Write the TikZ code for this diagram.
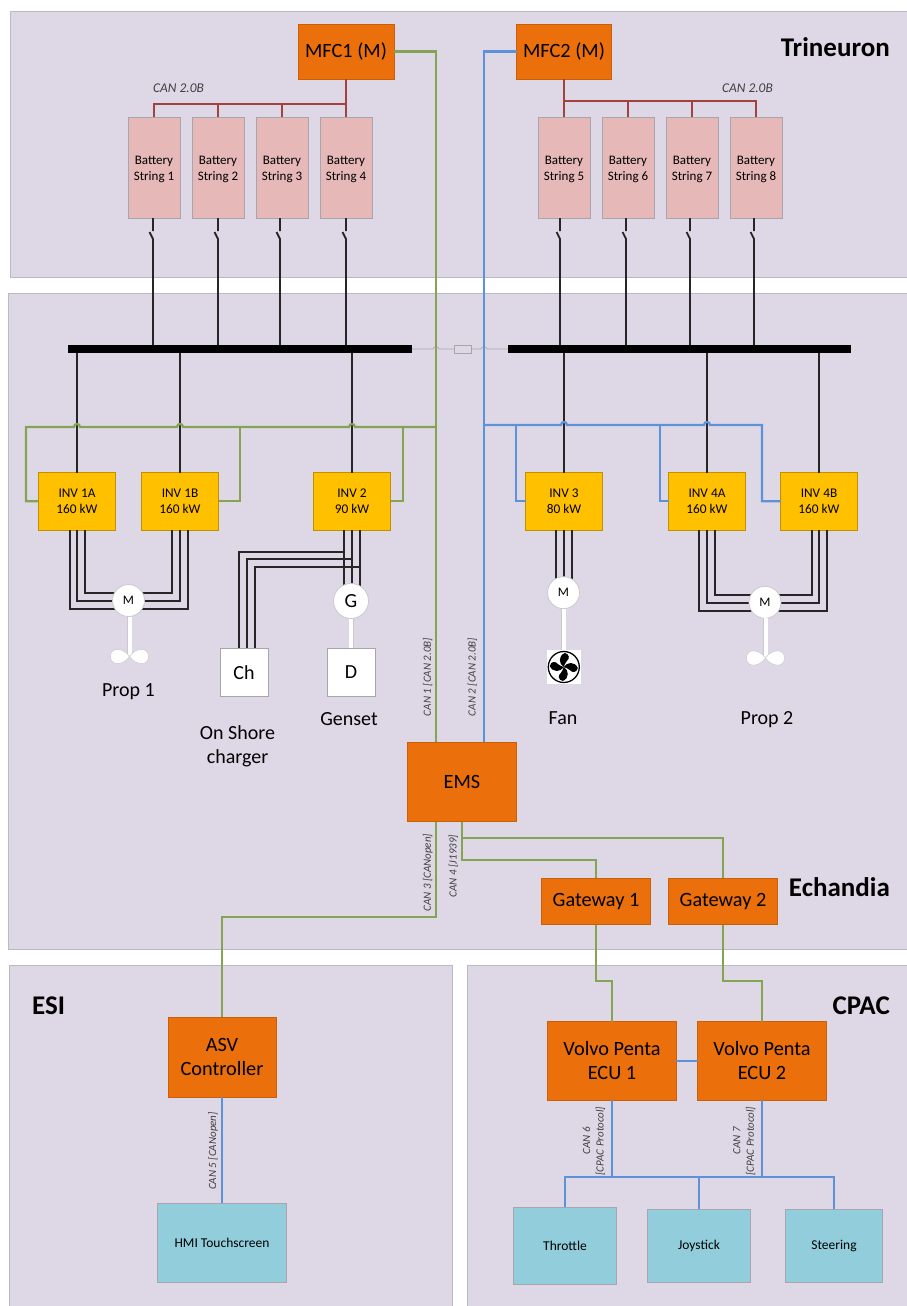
\documentclass[tikz,border=0pt]{standalone}
\usepackage{fontspec}
\setmainfont{Carlito}
\usepackage{tikz}
\usetikzlibrary{positioning}

\definecolor{panelfill}{HTML}{DED8E6}
\definecolor{paneledge}{HTML}{BDB9C4}
\definecolor{ctrlorange}{HTML}{EB700B}
\definecolor{battpink}{HTML}{E6B8B7}
\definecolor{invyellow}{HTML}{FFC000}
\definecolor{perifblue}{HTML}{92CDDC}
\definecolor{wiregreen}{HTML}{84A353}
\definecolor{wireblue}{HTML}{5E92D8}
\definecolor{wirered}{HTML}{A2423F}
\definecolor{boxedge}{HTML}{A9A5AE}

\tikzset{
  panel/.style={fill=panelfill, draw=paneledge, line width=0.8pt},
  title/.style={font=\fontsize{27}{32}\selectfont\bfseries, inner sep=0pt},
  box/.style={draw=boxedge, line width=0.8pt, inner sep=0pt, outer sep=0pt, align=center},
  ctrl/.style={box, fill=ctrlorange, draw=ctrlorange!85!black, font=\fontsize{20.3}{24}\selectfont},
  batt/.style={box, fill=battpink, font=\fontsize{13}{16}\selectfont, text height=29pt, minimum width=52pt, minimum height=101pt},
  inverter/.style={box, fill=invyellow, draw=invyellow!75!black, font=\fontsize{13.3}{16}\selectfont, minimum width=77pt, minimum height=57.5pt},
  perif/.style={box, fill=perifblue, font=\fontsize{13.5}{16}\selectfont},
  plain/.style={box, fill=white, font=\fontsize{20}{24}\selectfont, minimum width=48pt, minimum height=48pt},
  machine/.style={circle, fill=white, draw=boxedge!60, line width=0.8pt, inner sep=0pt, outer sep=0pt, minimum size=32pt, font=\fontsize{13}{16}\selectfont},
  busbar/.style={fill=black, inner sep=0pt, outer sep=0pt, minimum height=8.5pt},
  caption/.style={font=\fontsize{20}{24.5}\selectfont, inner sep=0pt, align=center},
  canlabel/.style={font=\fontsize{11}{13.5}\selectfont\itshape, text=black!75, inner sep=0pt, align=center},
  busnote/.style={font=\fontsize{13.4}{16}\selectfont\itshape, text=black!75, inner sep=0pt},
  power/.style={black!85, line width=1.8pt},
  phase/.style={black!85, line width=1.6pt},
  tiebar/.style={black!35, line width=0.6pt},
  cangreen/.style={wiregreen, line width=2.2pt},
  canblue/.style={wireblue, line width=2.2pt},
  canred/.style={wirered, line width=2.2pt},
  shaft/.style={draw=boxedge!60, double=white, double distance=4pt, line width=0.5pt},
  propeller/.pic={
    \draw[draw=boxedge!60, fill=white, line width=0.5pt] (0,0) .. controls (-6,-9) and (-19,-10) .. (-19,0)
      .. controls (-19,10) and (-6,9) .. (0,0)
      .. controls (6,-9) and (19,-10) .. (19,0)
      .. controls (19,10) and (6,9) .. (0,0);
  },
  fanblades/.pic={
    \draw[black, fill=white, line width=1.3pt] (0,0) circle (15.5);
    \foreach \turn in {0,90,180,270} {
      \fill[black, rotate=\turn] (0,0) .. controls (-5,-3) and (-6,-11) .. (1,-14)
        .. controls (6,-13) and (6,-8) .. (3,-6) .. controls (1,-4) and (1,-2) .. (0,0);
    }
  }
}

\begin{document}
\begin{tikzpicture}[x=1pt,y=-1pt]
    \useasboundingbox (0,0) rectangle (906,1306);
    % ---- Panels ----
    \draw[panel] (10,11.5) rectangle (907,277);
    \draw[panel] (8.5,293.5) rectangle (907,949);
    \draw[panel] (9,965.5) rectangle (452,1307);
    \draw[panel] (467,965.5) rectangle (907,1307);
    \node[title, anchor=east] (trineuron) at (890,47) {Trineuron};
    \node[title, anchor=east] (echandia) at (890,887) {Echandia};
    \node[title, anchor=west] (esi) at (32,1006) {ESI};
    \node[title, anchor=east] (cpac) at (890,1006) {CPAC};

    % ---- Trineuron ----
    \node[ctrl, minimum width=96pt, minimum height=55pt] (mfc1) at (346,51.5) {MFC1 (M)};
    \node[ctrl, minimum width=95pt, minimum height=55pt] (mfc2) at (564,51.5) {MFC2 (M)};
    \node[batt] (bs1) at (154,167.5) {Battery\\String 1};
    \node[batt] (bs2) at (218,167.5) {Battery\\String 2};
    \node[batt] (bs3) at (282,167.5) {Battery\\String 3};
    \node[batt] (bs4) at (346,167.5) {Battery\\String 4};
    \node[batt] (bs5) at (564,167.5) {Battery\\String 5};
    \node[batt] (bs6) at (628,167.5) {Battery\\String 6};
    \node[batt] (bs7) at (692,167.5) {Battery\\String 7};
    \node[batt] (bs8) at (756,167.5) {Battery\\String 8};
    \node[busnote, anchor=west] (canleft) at (153,88.5) {CAN 2.0B};
    \node[busnote, anchor=east] (canright) at (773,88.5) {CAN 2.0B};
    \draw[canred] (mfc1.south) -- (bs4.north);
    \draw[canred] (mfc2.south) -- (bs5.north);
    \draw[canred] (bs1.north) -- ++(0,-13) -| (mfc1.south);
    \draw[canred] (bs2.north) -- ++(0,-13);
    \draw[canred] (bs3.north) -- ++(0,-13);
    \draw[canred] (bs8.north) -- ++(0,-16) -| (mfc2.south);
    \draw[canred] (bs6.north) -- ++(0,-16);
    \draw[canred] (bs7.north) -- ++(0,-16);

    % ---- Busbars ----
    \node[busbar, minimum width=344pt] (busleft) at (240,349) {};
    \node[busbar, minimum width=343pt] (busright) at (679,349) {};
    \node[draw=black!35, fill=panelfill, line width=0.6pt, minimum width=17pt, minimum height=8pt, inner sep=0pt, outer sep=0pt] (fuse) at (462.5,349) {};
    \coordinate (hopgreen) at (436,349);
    \coordinate (hopblue) at (484,349);
    \draw[tiebar] (busleft.east) -- ([xshift=-3]hopgreen) .. controls +(0,-3) and +(0,-3) .. ([xshift=3]hopgreen) -- (fuse.west);
    \draw[tiebar] (fuse.east) -- ([xshift=-3]hopblue) .. controls +(0,-3) and +(0,-3) .. ([xshift=3]hopblue) -- (busright.west);

    % ---- Battery feeders with switches ----
    \draw[power] ([xshift=-1]bs1.south) -- ++(0,13) ++(-3.5,1) -- ++(3.5,7) -- ([xshift=-1]bs1.south |- busleft.north);
    \draw[power] (bs2.south) -- ++(0,13) ++(-3.5,1) -- ++(3.5,7) -- (bs2.south |- busleft.north);
    \draw[power] ([xshift=-2]bs3.south) -- ++(0,13) ++(-3.5,1) -- ++(3.5,7) -- ([xshift=-2]bs3.south |- busleft.north);
    \draw[power] (bs4.south) -- ++(0,13) ++(-3.5,1) -- ++(3.5,7) -- (bs4.south |- busleft.north);
    \draw[power] ([xshift=-4]bs5.south) -- ++(0,13) ++(-3.5,1) -- ++(3.5,7) -- ([xshift=-4]bs5.south |- busright.north);
    \draw[power] ([xshift=-2]bs6.south) -- ++(0,13) ++(-3.5,1) -- ++(3.5,7) -- ([xshift=-2]bs6.south |- busright.north);
    \draw[power] ([xshift=-2]bs7.south) -- ++(0,13) ++(-3.5,1) -- ++(3.5,7) -- ([xshift=-2]bs7.south |- busright.north);
    \draw[power] ([xshift=-2]bs8.south) -- ++(0,13) ++(-3.5,1) -- ++(3.5,7) -- ([xshift=-2]bs8.south |- busright.north);

    % ---- Inverters ----
    \node[inverter] (inv1a) at (77,501.3) {INV 1A\\160 kW};
    \node[inverter] (inv1b) at (180,501.3) {INV 1B\\160 kW};
    \node[inverter] (inv2) at (352,501.3) {INV 2\\90 kW};
    \node[inverter] (inv3) at (564,501.3) {INV 3\\80 kW};
    \node[inverter] (inv4a) at (707,501.3) {INV 4A\\160 kW};
    \node[inverter] (inv4b) at (819,501.3) {INV 4B\\160 kW};
    \draw[power] (inv1a.north) -- (inv1a.north |- busleft.south);
    \draw[power] (inv1b.north) -- (inv1b.north |- busleft.south);
    \draw[power] (inv2.north) -- (inv2.north |- busleft.south);
    \draw[power] (inv3.north) -- (inv3.north |- busright.south);
    \draw[power] (inv4a.north) -- (inv4a.north |- busright.south);
    \draw[power] (inv4b.north) -- (inv4b.north |- busright.south);

    % ---- EMS and gateways ----
    \node[ctrl, minimum width=108.5pt, minimum height=79.5pt] (ems) at (462,782) {EMS};
    \node[ctrl, minimum width=108.5pt, minimum height=46.5pt] (gw1) at (596,901.5) {Gateway 1};
    \node[ctrl, minimum width=108.5pt, minimum height=46.5pt] (gw2) at (723,901.5) {Gateway 2};
    \coordinate (greentee) at (436,427);
    \coordinate (bluetee) at (484,425);
    \draw[cangreen] (mfc1.east) -| ([xshift=-26]ems.north);
    \draw[canblue] (mfc2.west) -| ([xshift=22]ems.north);
    \draw[cangreen] (greentee) -- ([xshift=3]inv2.north |- greentee)
      .. controls +(0,-4) and +(0,-4) .. ([xshift=-3]inv2.north |- greentee)
      -- ([xshift=3]inv1b.north |- greentee)
      .. controls +(0,-4) and +(0,-4) .. ([xshift=-3]inv1b.north |- greentee)
      -- ([xshift=3]inv1a.north |- greentee)
      .. controls +(0,-4) and +(0,-4) .. ([xshift=-3]inv1a.north |- greentee)
      -| ([xshift=-12.5]inv1a.west) -- (inv1a.west);
    \draw[cangreen] ([xshift=21.5]inv1b.east |- greentee) |- (inv1b.east);
    \draw[cangreen] ([xshift=12.5]inv2.east |- greentee) |- (inv2.east);
    \draw[canblue] (bluetee) -- ([xshift=-3]inv3.north |- bluetee)
      .. controls +(0,-4) and +(0,-4) .. ([xshift=3]inv3.north |- bluetee)
      -- ([xshift=-3]inv4a.north |- bluetee)
      .. controls +(0,-4) and +(0,-4) .. ([xshift=3]inv4a.north |- bluetee)
      -| ([xshift=-18.5]inv4b.west) -- (inv4b.west);
    \draw[canblue] ([xshift=-9.5]inv3.west |- bluetee) |- (inv3.west);
    \draw[canblue] ([xshift=-8.5]inv4a.west |- bluetee) |- (inv4a.west);
    \node[canlabel, rotate=90] (can1) at (427.7,677) {CAN 1 [CAN 2.0B]};
    \node[canlabel, rotate=90] (can2) at (472.3,677) {CAN 2 [CAN 2.0B]};
    \node[canlabel, rotate=90] (can3) at (427.7,872.7) {CAN 3 [CANopen]};
    \node[canlabel, rotate=90] (can4) at (453.3,866) {CAN 4 [J1939]};

    % ---- Prop 1 ----
    \draw[phase] ([xshift=-7]inv1a.south) |- (128.5,609);
    \draw[phase] (inv1a.south) |- (128.5,601);
    \draw[phase] ([xshift=8]inv1a.south) |- (128.5,593);
    \draw[phase] ([xshift=-8]inv1b.south) |- (128.5,593);
    \draw[phase] (inv1b.south) |- (128.5,601);
    \draw[phase] ([xshift=8]inv1b.south) |- (128.5,609);
    \node[machine] (m1) at (128.5,600.5) {M};
    \coordinate (hub1) at (129.5,656.5);
    \draw[shaft] (m1.south -| hub1) -- (hub1);
    \pic at (hub1) {propeller};
    \node[caption, anchor=base] (prop1) at (128.5,696) {Prop 1};

    % ---- Genset and charger ----
    \node[plain] (ch) at (244,672.3) {Ch};
    \node[plain] (dg) at (351,672.3) {D};
    \draw[phase] ([xshift=-8]inv2.south) -- ++(0,70);
    \draw[phase] (inv2.south) -- ++(0,70);
    \draw[phase] ([xshift=8]inv2.south) -- ++(0,70);
    \draw[phase] ([xshift=-8]inv2.south |- 0,552) -| ([xshift=-5]ch.north);
    \draw[phase] (inv2.south |- 0,559) -| ([xshift=3]ch.north);
    \draw[phase] ([xshift=8]inv2.south |- 0,567) -| ([xshift=11]ch.north);
    \node[machine, minimum size=35pt, font=\fontsize{20}{24}\selectfont] (gen) at (351,601) {G};
    \draw[shaft] (gen.south) -- (dg.north);
    \node[caption, anchor=base] (genset) at (349,725) {Genset};
    \node[caption] (charger) at (237.5,746.5) {On Shore\\charger};

    % ---- Fan ----
    \draw[phase] ([xshift=-8]inv3.south) -- ++(0,50);
    \draw[phase] (inv3.south) -- ++(0,50);
    \draw[phase] ([xshift=8]inv3.south) -- ++(0,50);
    \node[machine] (m2) at (563.5,592.7) {M};
    \node[fill=white, minimum size=34.5pt, inner sep=0pt, outer sep=0pt] (fanbox) at (563.8,667) {};
    \draw[shaft] (m2.south) -- (m2.south |- fanbox.north);
    \pic at (fanbox.center) {fanblades};
    \node[caption, anchor=base] (fan) at (563,724.5) {Fan};

    % ---- Prop 2 ----
    \draw[phase] ([xshift=-8]inv4a.south) |- (765,611);
    \draw[phase] (inv4a.south) |- (765,603);
    \draw[phase] ([xshift=8]inv4a.south) |- (765,595);
    \draw[phase] ([xshift=-7]inv4b.south) |- (765,595);
    \draw[phase] (inv4b.south) |- (765,603);
    \draw[phase] ([xshift=8]inv4b.south) |- (765,611);
    \node[machine] (m3) at (765,602.3) {M};
    \coordinate (hub2) at (765.5,658);
    \draw[shaft] (m3.south -| hub2) -- (hub2);
    \pic at (hub2) {propeller};
    \node[caption, anchor=base] (prop2) at (767,724.5) {Prop 2};

    % ---- ESI ----
    \node[ctrl, minimum width=108pt, minimum height=79.5pt] (asv) at (222,1057.2) {ASV\\Controller};
    \node[perif, minimum width=128.5pt, minimum height=79pt] (hmi) at (222,1242.5) {HMI Touchscreen};
    \draw[cangreen] ([xshift=-26]ems.south) |- (222,917) -- (asv.north);
    \draw[canblue] (asv.south) -- (hmi.north);
    \node[canlabel, rotate=90] (can5) at (213,1151) {CAN 5 [CANopen]};

    % ---- CPAC ----
    \node[ctrl, minimum width=128.5pt, minimum height=78.6pt] (ecu1) at (612,1061) {Volvo Penta\\ECU 1};
    \node[ctrl, minimum width=128.5pt, minimum height=78.6pt] (ecu2) at (762,1061) {Volvo Penta\\ECU 2};
    \node[perif, minimum width=102.6pt, minimum height=76.7pt] (throttle) at (565,1245.6) {Throttle};
    \node[perif, minimum width=102.7pt, minimum height=73.3pt] (joystick) at (699,1245.6) {Joystick};
    \node[perif, minimum width=96.4pt, minimum height=73.3pt] (steering) at (834,1245.6) {Steering};
    \coordinate (ctrlbus) at (699,1177);
    \draw[canblue] (ecu1.east) -- (ecu2.west);
    \draw[canblue] (ecu1.south) -- (ecu1.south |- ctrlbus);
    \draw[canblue] (ecu2.south) -- (ecu2.south |- ctrlbus);
    \draw[canblue] (throttle.north) |- (ctrlbus) -| (steering.north);
    \draw[canblue] (ctrlbus) -- (joystick.north);
    \node[canlabel, rotate=90] (can6) at (594,1141) {CAN 6\\{[}CPAC Protocol{]}};
    \node[canlabel, rotate=90] (can7) at (744.3,1141) {CAN 7\\{[}CPAC Protocol{]}};

    % ---- Gateway links ----
    \draw[cangreen] (ems.south) |- (723,838) -- (gw2.north);
    \draw[cangreen] (ems.south) |- (596,860) -- (gw1.north);
    \draw[cangreen] (gw1.south) |- (612,981) -- (ecu1.north);
    \draw[cangreen] (gw2.south) |- (762,981) -- (ecu2.north);
  \end{tikzpicture}
\end{document}
